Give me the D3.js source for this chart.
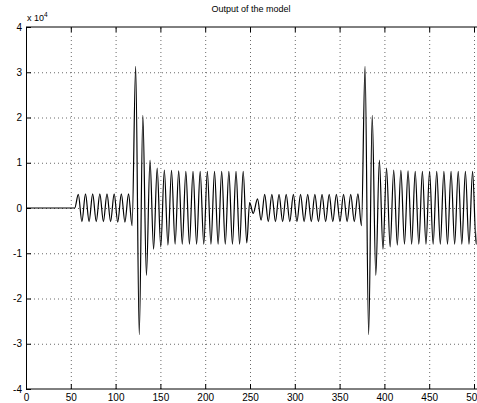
<!DOCTYPE html>
<html>
<head>
<meta charset="utf-8">
<script src="https://cdn.jsdelivr.net/npm/d3@7"></script>
<style>
  body { margin: 0; background: #fff; }
  svg { display: block; font-family: "Liberation Sans", Arial, sans-serif; }
  .grid line { stroke: #444; stroke-dasharray: 1,3; stroke-width: 0.8; }
  .grid path { display: none; }
  .axis path, .axis line { stroke: #000; }
  .axis text { font-size: 10px; fill: #000; }
</style>
</head>
<body>
<svg id="chart"></svg>
<script>
// tick labels of the axes
var xTicks = [0, 50, 100, 150, 200, 250, 300, 350, 400, 450, 500];
var yTicks = [-40000, -30000, -20000, -10000, 0, 10000, 20000, 30000, 40000];
var yTickLabels = ["-4", "-3", "-2", "-1", "0", "1", "2", "3", "4"];

// turning points of the model output
var sampleTimes = [
  0, 54.4,
  58.4, 62.4, 66.4, 70.4, 74.4, 78.4, 82.4, 86.4, 90.4, 94.4, 98.4, 102.4, 106.4, 110.4, 114.4, 118.4,
  122.4, 126.4, 130.4, 134.4, 138.4, 142.4, 146.4, 150.4, 154.4, 158.4, 162.4, 166.4, 170.4, 174.4,
  178.4, 182.4, 186.4, 190.4, 194.4, 198.4, 202.4, 206.4, 210.4, 214.4, 218.4, 222.4, 226.4, 230.4, 234.4, 238.4, 242.4, 246.4,
  249.6, 253.6, 258.4, 262.4,
  266.4, 270.4, 274.4, 278.4, 282.4, 286.4, 290.4, 294.4, 298.4, 302.4, 306.4, 310.4, 314.4, 318.4,
  322.4, 326.4, 330.4, 334.4, 338.4, 342.4, 346.4, 350.4, 354.4, 358.4, 362.4, 366.4, 370.4, 374.4,
  378.4, 382.4, 386.4, 390.4, 394.4, 398.4, 402.4, 406.4, 410.4, 414.4, 418.4, 422.4, 426.4, 430.4,
  434.4, 438.4, 442.4, 446.4, 450.4, 454.4, 458.4, 462.4, 466.4, 470.4, 474.4, 478.4, 482.4, 486.4,
  490.4, 494.4, 498.4, 502.4, 506.4
];
var outputValues = [
  0, 0,
  3000, -3000, 3100, -3000, 3100, -3000, 3100, -3000, 3100, -3000, 3100, -3100, 3100, -3100, 3100, -3900,
  31300, -28000, 20500, -14900, 10600, -9100, 8800, -8600, 8400, -8200, 8300, -8000, 8200, -8000,
  8100, -8000, 8100, -8000, 8100, -8000, 8100, -8000, 8100, -8000, 8100, -8000, 8100, -8000, 8100, -8000, 8100, -7700,
  1200, -1200, 2000, -2700,
  3000, -3000, 3000, -3000, 3000, -3000, 3000, -3000, 3000, -3000, 3000, -3000, 3000, -3000,
  3000, -3000, 3000, -3000, 3000, -3000, 3000, -3000, 3000, -3000, 3000, -3000, 3100, -3900,
  31300, -28000, 20500, -14900, 10600, -9100, 8800, -8600, 8400, -8200, 8300, -8000, 8200, -8000,
  8100, -8000, 8100, -8000, 8100, -8000, 8100, -8000, 8100, -8000, 8100, -8000, 8100, -8000,
  8100, -8000, 8100, -8000, 8100
];

var width = 477,
    height = 403,
    plotLeft = 26,
    plotTop = 27,
    plotBottom = 389,
    plotRight = 474; // x = 500, the box runs on past the picture edge

var svg = d3.select("#chart")
    .attr("width", width)
    .attr("height", height);

var x = d3.scaleLinear().domain([0, 500]).range([plotLeft, plotRight]);
var y = d3.scaleLinear().domain([-40000, 40000]).range([plotBottom, plotTop]);

// dotted grid
svg.append("g")
    .attr("class", "grid")
    .attr("transform", "translate(0," + plotBottom + ")")
    .call(d3.axisBottom(x).tickValues(xTicks.slice(1)).tickSize(-(plotBottom - plotTop)).tickFormat(""));
svg.append("g")
    .attr("class", "grid")
    .attr("transform", "translate(" + plotLeft + ",0)")
    .call(d3.axisLeft(y).tickValues(yTicks.slice(1, -1)).tickSize(-(width - plotLeft)).tickFormat(""));

// the signal
svg.append("clipPath").attr("id", "plotclip")
  .append("rect")
    .attr("x", plotLeft).attr("y", plotTop)
    .attr("width", width - plotLeft).attr("height", plotBottom - plotTop);

var line = d3.line()
    .x(function(d, i) { return x(sampleTimes[i]); })
    .y(function(d) { return y(d); })
    .curve(d3.curveMonotoneX);

svg.append("path")
    .datum(outputValues)
    .attr("clip-path", "url(#plotclip)")
    .attr("fill", "none")
    .attr("stroke", "#000")
    .attr("stroke-width", 1.2)
    .attr("d", line);

// axes, ticks inside like matlab
var xAxis = svg.append("g")
    .attr("class", "axis")
    .attr("transform", "translate(0," + plotBottom + ")")
    .call(d3.axisBottom(x).tickValues(xTicks).tickSizeInner(-5).tickSizeOuter(0).tickPadding(5));
xAxis.select(".domain").attr("d", "M" + plotLeft + ",0H" + width);

var yAxis = svg.append("g")
    .attr("class", "axis")
    .attr("transform", "translate(" + plotLeft + ",0)")
    .call(d3.axisLeft(y).tickValues(yTicks).tickSizeInner(-5).tickSizeOuter(0).tickPadding(4)
      .tickFormat(function(d, i) { return yTickLabels[i]; }));

var topAxis = svg.append("g")
    .attr("class", "axis")
    .attr("transform", "translate(0," + plotTop + ")")
    .call(d3.axisTop(x).tickValues(xTicks).tickSizeInner(-5).tickSizeOuter(0).tickFormat(""));
topAxis.select(".domain").attr("d", "M" + plotLeft + ",0H" + width);

// exponent label
var expo = svg.append("text")
    .attr("x", plotLeft + 1)
    .attr("y", 21)
    .attr("font-size", "9px");
expo.append("tspan").text("x 10");
expo.append("tspan").attr("font-size", "6.5px").attr("dy", -4).text("4");

svg.append("text")
    .attr("x", 251)
    .attr("y", 12)
    .attr("text-anchor", "middle")
    .attr("font-size", "9px")
    .text("Output of the model");
</script>
</body>
</html>
